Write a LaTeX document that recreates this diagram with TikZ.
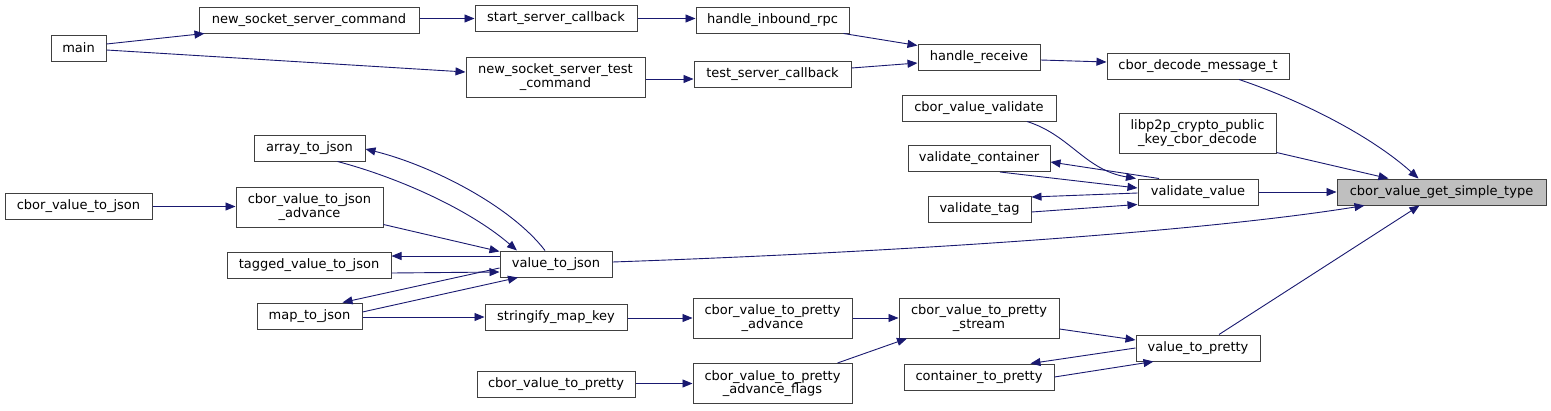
\documentclass[tikz,border=0pt]{standalone}
\usepackage{fontspec}
\setmainfont{DejaVu Sans}
\usetikzlibrary{arrows.meta}
\definecolor{edgeblue}{HTML}{191970}
\definecolor{boxline}{HTML}{404040}

\begin{document}
\begin{tikzpicture}[x=1pt,y=-1pt,
  fn/.style={draw=boxline,fill=white,line width=1pt,inner sep=0pt,align=center,
    font=\fontsize{13}{13.3}\selectfont,minimum height=26pt},
  fntwo/.style={fn,minimum height=40pt},
  cur/.style={fn,fill=black!25},
  call/.style={draw=edgeblue,line width=0.9pt,-{Triangle[length=10pt,width=8pt]}}]
  \fill[white] (0,0) rectangle (1551,410);
  \useasboundingbox (0,0) rectangle (1551,410);
  % network callers
  \node[fn,minimum width=55pt] (main) at (78.5,48) {main};
  \node[fn,minimum width=220pt] (nssc) at (309,20) {new\_socket\_server\_command};
  \node[fn,minimum width=162pt] (ssc) at (556,18.5) {start\_server\_callback};
  \node[fn,minimum width=153pt] (hir) at (772.5,20) {handle\_inbound\_rpc};
  \node[fntwo,minimum width=179pt] (nsstc) at (555.5,77) {new\_socket\_server\_test\\\_command};
  \node[fn,minimum width=157pt] (tsc) at (772.5,74) {test\_server\_callback};
  \node[fn,minimum width=122pt] (hrecv) at (979,57) {handle\_receive};
  \node[fn,minimum width=182pt] (cdm) at (1198,66) {cbor\_decode\_message\_t};
  % validation
  \node[fn,minimum width=154pt] (cvv) at (979,108) {cbor\_value\_validate};
  \node[fn,minimum width=142pt] (vcont) at (979,158.5) {validate\_container};
  \node[fn,minimum width=103pt] (vtag) at (979.5,209.5) {validate\_tag};
  \node[fntwo,minimum width=157pt] (lpk) at (1197.5,133) {libp2p\_crypto\_public\\\_key\_cbor\_decode};
  \node[fn,minimum width=120pt] (vval) at (1198,192) {validate\_value};
  \node[cur,minimum width=209pt] (gst) at (1441.5,192) {cbor\_value\_get\_simple\_type};
  % json
  \node[fn,minimum width=111pt] (a2j) at (309.5,148) {array\_to\_json};
  \node[fntwo,minimum width=147pt] (cvtja) at (309.5,207) {cbor\_value\_to\_json\\\_advance};
  \node[fn,minimum width=147pt] (cvtj) at (78.5,206.5) {cbor\_value\_to\_json};
  \node[fn,minimum width=164pt] (tv2j) at (309,265.5) {tagged\_value\_to\_json};
  \node[fn,minimum width=105pt] (m2j) at (309.5,316) {map\_to\_json};
  \node[fn,minimum width=112pt] (v2j) at (556,264) {value\_to\_json};
  \node[fn,minimum width=142pt] (smk) at (556,317) {stringify\_map\_key};
  % pretty
  \node[fn,minimum width=158pt] (cvtp) at (556,384) {cbor\_value\_to\_pretty};
  \node[fntwo,minimum width=159pt] (cvtpa) at (772.5,318) {cbor\_value\_to\_pretty\\\_advance};
  \node[fntwo,minimum width=159pt] (cvtpaf) at (772.5,383.5) {cbor\_value\_to\_pretty\\\_advance\_flags};
  \node[fntwo,minimum width=160pt] (cvtps) at (979,318) {cbor\_value\_to\_pretty\\\_stream};
  \node[fn,minimum width=150pt] (c2p) at (979,377) {container\_to\_pretty};
  \node[fn,minimum width=124pt] (v2p) at (1198,348) {value\_to\_pretty};

  \draw[call] ([yshift=4pt]main.east) -- ([xshift=6pt]nssc.south west);
  \draw[call] ([yshift=-2pt]main.east) -- ([yshift=5pt]nsstc.west);
  \draw[call] (nssc.east |- ssc.west) -- (ssc.west);
  \draw[call] (ssc.east) -- (ssc.east -| hir.west);
  \draw[call] ([yshift=-2pt]nsstc.east) -- ([yshift=-2pt]nsstc.east -| tsc.west);
  \draw[call] ([xshift=-6pt]hir.south east) -- ([yshift=-2pt]hrecv.north west);
  \draw[call] ([yshift=6pt]tsc.east) -- ([yshift=-6pt]hrecv.west);
  \draw[call] ([yshift=-3pt]hrecv.east) -- ([yshift=4pt]cdm.west);
  \draw[call] ([xshift=41pt]cdm.south) .. controls (1300,100) and (1370,135) .. ([xshift=-23pt]gst.north);
  \draw[call] ([yshift=1pt]lpk.south east) -- ([xshift=-53pt]gst.north);
  \draw[call] (vval.east) -- (gst.west);
  \draw[call] ([yshift=2pt]v2j.east) .. controls (900,252) and (1200,232) .. ([xshift=-77pt]gst.south);
  \draw[call] ([xshift=21pt]v2p.north) -- ([xshift=-22pt]gst.south);

  \draw[call] ([xshift=48pt]cvv.south) .. controls (1070,135) and (1085,170) .. ([xshift=-62pt]vval.north);
  \draw[call] ([xshift=-39pt]vval.north) -- ([yshift=-3.5pt]vcont.east);
  \draw[call] ([xshift=21pt]vcont.south) -- ([yshift=4pt]vval.west);
  \draw[call] ([yshift=-1pt]vval.west) -- ([yshift=-1pt]vtag.north east);
  \draw[call] ([yshift=-2.5pt]vtag.east) -- ([yshift=1pt]vval.south west);

  \draw[call] (cvtj.east) -- (cvtj.east -| cvtja.west);
  \draw[call] ([yshift=3pt]cvtja.south east) -- ([yshift=-1pt]v2j.north west);
  \draw[call] ([xshift=28pt]a2j.south) .. controls (400,178) and (470,210) .. ([xshift=-39pt]v2j.north);
  \draw[call] ([xshift=-11pt]v2j.north) .. controls (510,205) and (430,165) .. ([yshift=-1pt]a2j.east);
  \draw[call] ([yshift=8pt]v2j.west) -- ([yshift=9.5pt]tv2j.east);
  \draw[call] ([yshift=-7.5pt]tv2j.east) -- ([yshift=-8pt]v2j.west);
  \draw[call] ([yshift=-4pt]v2j.west) -- ([xshift=33pt]m2j.north);
  \draw[call] ([yshift=4pt]m2j.east) -- ([xshift=-38pt]v2j.south);
  \draw[call] (m2j.east |- smk.west) -- (smk.west);

  \draw[call] (smk.east |- cvtpa.west) -- (cvtpa.west);
  \draw[call] (cvtpa.east) -- (cvtps.west);
  \draw[call] (cvtp.east |- cvtpaf.west) -- (cvtpaf.west);
  \draw[call] ([xshift=65pt]cvtpaf.north) -- ([xshift=-72pt]cvtps.south);
  \draw[call] ([yshift=-11pt]cvtps.east) -- ([yshift=8pt]v2p.west);
  \draw[call] (v2p.west) -- ([xshift=-24pt]c2p.north east);
  \draw[call] (c2p.east) -- ([xshift=18pt]v2p.south west);
\end{tikzpicture}
\end{document}
